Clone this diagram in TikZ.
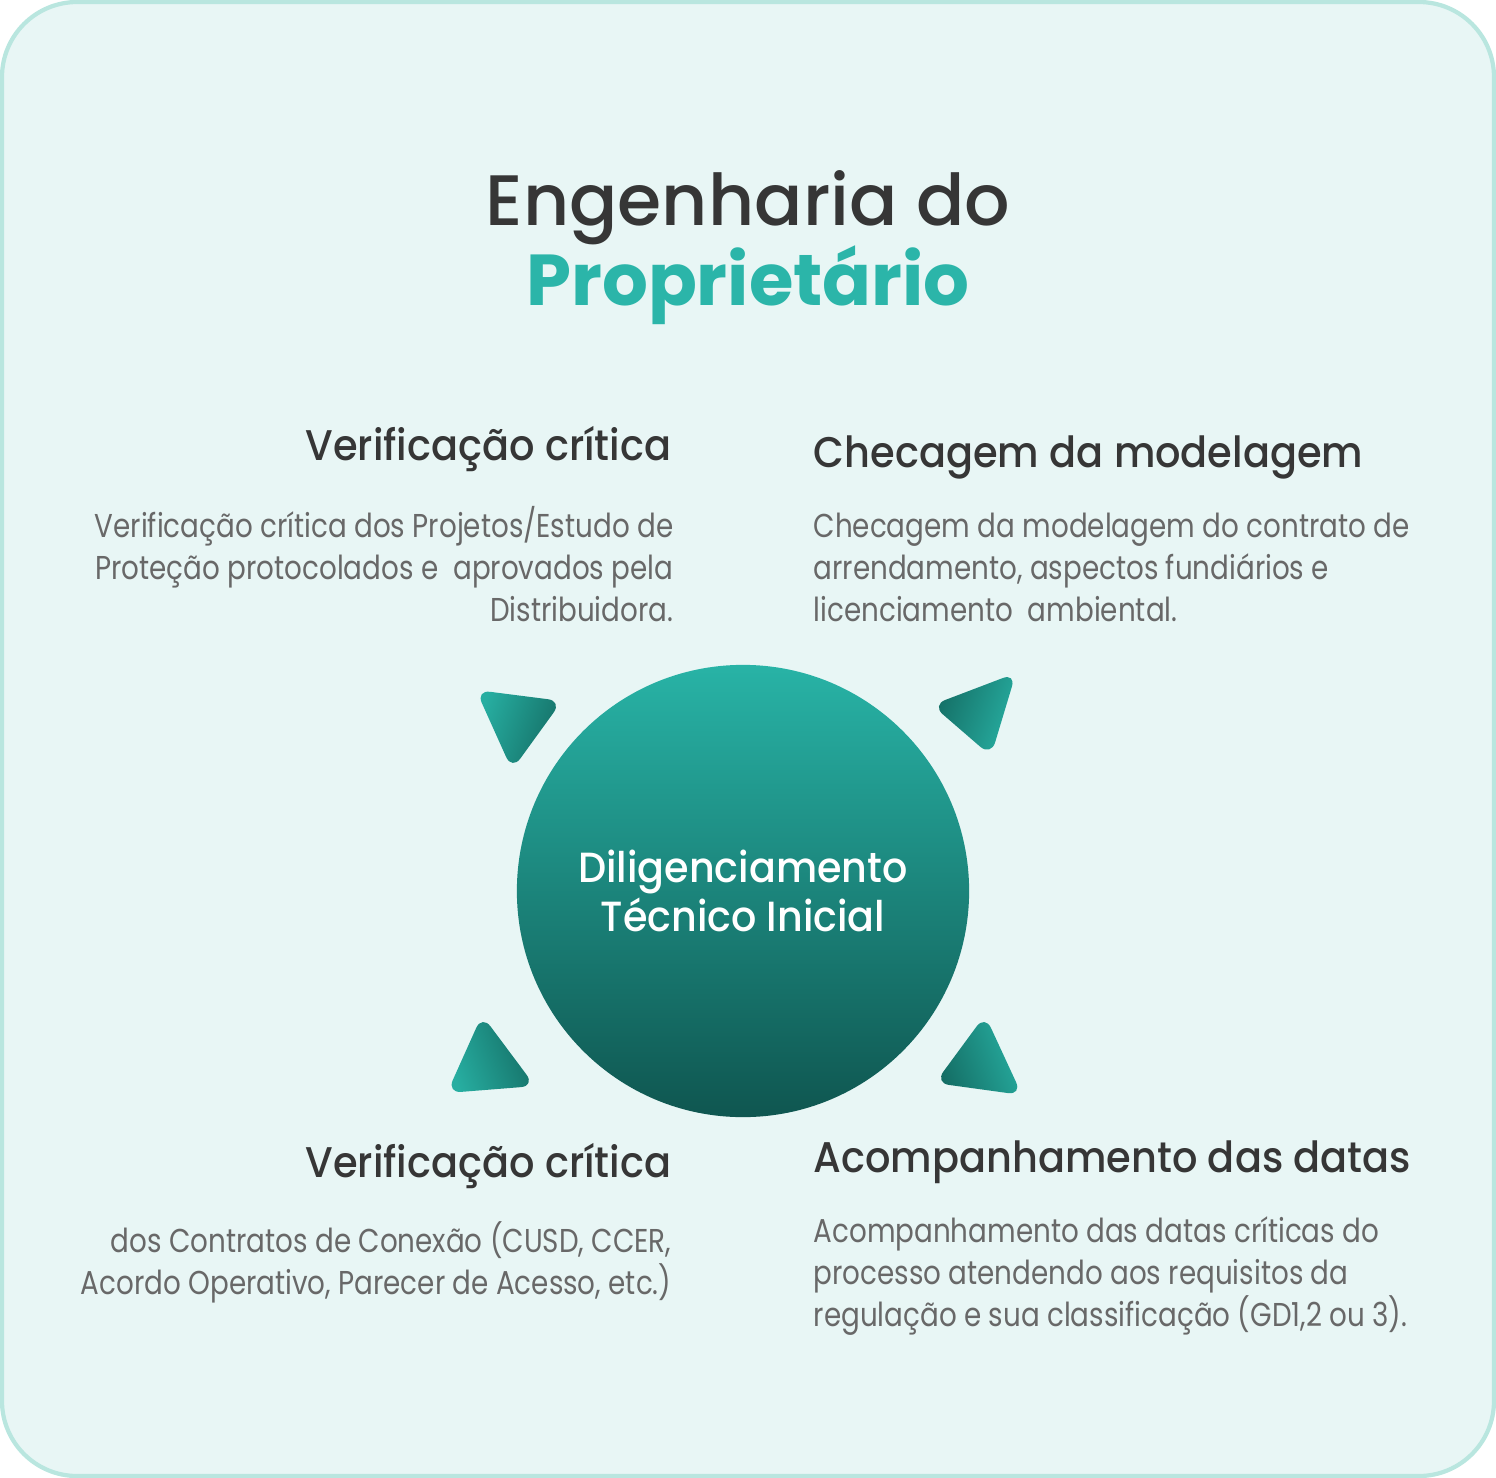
\documentclass[tikz,border=0pt]{standalone}
\usepackage{fontspec}
\setmainfont{Poppins}
\newfontfamily\medfont{Poppins Medium}
\newfontfamily\headfont[FakeStretch=0.93]{Poppins Medium}
\newfontfamily\circfont[FakeStretch=0.94]{Poppins Medium}
\newfontfamily\blurbfont[FakeStretch=0.84]{Poppins}
\usetikzlibrary{positioning}
\definecolor{bgmint}{HTML}{E8F6F5}
\definecolor{bgline}{HTML}{B9E6DF}
\definecolor{inkdark}{HTML}{363636}
\definecolor{tealtitle}{HTML}{2BB5A9}
\definecolor{blurbgray}{HTML}{686868}
\definecolor{tealtop}{HTML}{28B3A6}
\definecolor{tealbot}{HTML}{0F5650}
\definecolor{trilight}{HTML}{27AEA1}
\definecolor{tridark}{HTML}{146D64}

\begin{document}
\begin{tikzpicture}[x=0.01cm,y=-0.01cm,
    title/.style={font=\medfont\fontsize{20.3}{24}\selectfont, inner sep=0pt, anchor=base},
    heading/.style={font=\headfont\fontsize{12.2}{15}\selectfont, text=inkdark, inner sep=0pt},
    blurb/.style={font=\blurbfont\fontsize{9.4}{11.95}\selectfont, text=blurbgray, inner sep=0pt}]
    \useasboundingbox (0,0) rectangle (1496,1478);
    \draw[bgline, line width=1.2pt, fill=bgmint, rounded corners=0.75cm] (2,2) rectangle (1494,1476);

    % title
    \node[title, text=inkdark] (eng) at (748,225) {Engenharia do};
    \node[title, text=tealtitle, font=\bfseries\fontsize{20.5}{24}\selectfont] (prop) at (748,305) {Proprietário};

    % centre
    \node[circle, minimum size=4.52cm, top color=tealtop, bottom color=tealbot, text=white,
          align=center, font=\circfont\fontsize{12}{13.7}\selectfont] (dti) at (743,891)
          {Diligenciamento\\Técnico Inicial};

    % triangles
    \shade[left color=trilight, right color=tridark, shading angle=70, rounded corners=4pt]
        (476,690) -- (562,701) -- (512,770) -- cycle;
    \shade[left color=tridark, right color=trilight, shading angle=70, rounded corners=4pt]
        (932,705) -- (1016,673) -- (991,756) -- cycle;
    \shade[left color=trilight, right color=tridark, shading angle=110, rounded corners=4pt]
        (482,1015) -- (535,1086) -- (447,1093) -- cycle;
    \shade[left color=tridark, right color=trilight, shading angle=110, rounded corners=4pt]
        (985,1015) -- (1022,1095) -- (935,1083) -- cycle;

    % upper left
    \node[heading, anchor=base east] (vc1) at (672,460) {Verificação crítica};
    \node[blurb, anchor=north east, align=right] (vc1t) at (674,506)
        {Verificação crítica dos Projetos/Estudo de\\Proteção protocolados e\ \ aprovados pela\\Distribuidora.};

    % upper right
    \node[heading, anchor=base west] (cm) at (813,467) {Checagem da modelagem};
    \node[blurb, anchor=north west, align=left] (cmt) at (813,512)
        {Checagem da modelagem do contrato de\\arrendamento, aspectos fundiários e\\licenciamento\ \ ambiental.};

    % lower left
    \node[heading, anchor=base east] (vc2) at (672,1177) {Verificação crítica};
    \node[blurb, anchor=north east, align=right] (vc2t) at (672,1221)
        {dos Contratos de Conexão (CUSD, CCER,\\Acordo Operativo, Parecer de Acesso, etc.)};

    % lower right
    \node[heading, anchor=base west] (ad) at (813,1172) {Acompanhamento das datas};
    \node[blurb, anchor=north west, align=left] (adt) at (813,1216)
        {Acompanhamento das datas críticas do\\processo atendendo aos requisitos da\\regulação e sua classificação (GD1,2 ou 3).};
\end{tikzpicture}
\end{document}
